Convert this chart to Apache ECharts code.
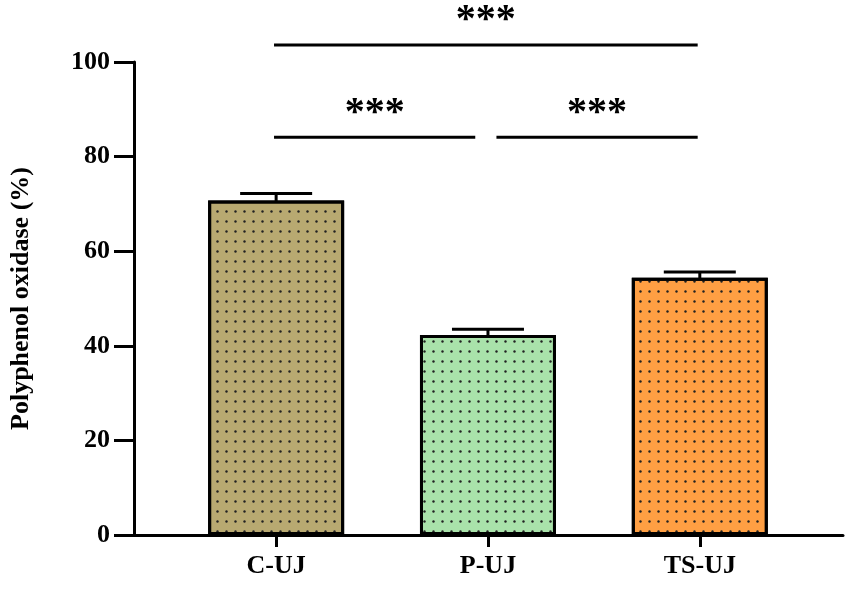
<!DOCTYPE html>
<html>
<head>
<meta charset="utf-8">
<script src="https://cdn.jsdelivr.net/npm/echarts@6/dist/echarts.min.js"></script>
<style>html,body{margin:0;padding:0;background:#fff}#chart{width:851px;height:600px}</style>
</head>
<body>
<div id="chart"></div>
<script>
// data
let categories = ['C-UJ', 'P-UJ', 'TS-UJ']
let means = [70.7, 42.3, 54.4]
let sds = [1.5, 1.2, 1.2]
let colors = ['#B8A971', '#A9E2AA', '#FF9F43']
// significance brackets: [from, to, level, label]
let brackets = [[-0.01, 1.99, 103.6, '***'], [-0.01, 0.94, 84.1, '***'], [1.04, 1.99, 84.1, '***']]

let font = '"Liberation Serif", "Times New Roman", serif'
let barData = means.map((v, i) => ({
    value: [i, v],
    itemStyle: { color: colors[i] }
}))
let errData = means.map((v, i) => [i, v - sds[i], v + sds[i]])

var chart = echarts.init(document.getElementById('chart'))
chart.setOption({
    animation: false,
    grid: { left: 130, right: 8, top: 62, bottom: 65 },
    xAxis: {
        type: 'value',
        min: -0.671, max: 2.676,
        splitLine: { show: false },
        axisLine: { show: true, onZero: false, lineStyle: { color: '#000', width: 3 } },
        axisTick: { show: true, customValues: [0, 1, 2], length: 12, lineStyle: { color: '#000', width: 3 } },
        axisLabel: {
            customValues: [0, 1, 2],
            formatter: v => categories[Math.round(v)],
            fontFamily: font, fontWeight: 'bold', fontSize: 26, color: '#000', margin: 18
        }
    },
    yAxis: {
        type: 'value',
        min: 0, max: 100, interval: 20,
        splitLine: { show: false },
        axisLine: { show: true, onZero: false, lineStyle: { color: '#000', width: 3 } },
        axisTick: { show: true, length: 20, lineStyle: { color: '#000', width: 3 } },
        axisLabel: { fontFamily: font, fontWeight: 'bold', fontSize: 26, color: '#000', margin: 24 },
        name: 'Polyphenol oxidase (%)',
        nameLocation: 'middle',
        nameGap: 100,
        nameTextStyle: { fontFamily: font, fontWeight: 'bold', fontSize: 26, color: '#000' }
    },
    series: [
        {
            type: 'bar',
            data: barData,
            barWidth: 136,
            itemStyle: {
                borderColor: '#000', borderWidth: 3,
                decal: { symbol: 'circle', symbolSize: 0.8, color: '#222', dashArrayX: [3, 6], dashArrayY: [3, 7] }
            },
            z: 3
        },
        {
            type: 'custom',
            data: errData,
            z: 2,
            renderItem: function (params, api) {
                let x = api.value(0)
                let lo = api.coord([x, api.value(1)])
                let hi = api.coord([x, api.value(2)])
                let hw = 36
                let st = { stroke: '#000', lineWidth: 3 }
                return {
                    type: 'group',
                    children: [
                        { type: 'line', shape: { x1: lo[0], y1: lo[1], x2: hi[0], y2: hi[1] }, style: st },
                        { type: 'line', shape: { x1: hi[0] - hw, y1: hi[1], x2: hi[0] + hw, y2: hi[1] }, style: st }
                    ]
                }
            }
        },
        {
            type: 'custom',
            data: brackets,
            clip: false,
            renderItem: function (params, api) {
                let a = api.coord([api.value(0), api.value(2)])
                let b = api.coord([api.value(1), api.value(2)])
                return {
                    type: 'group',
                    children: [
                        { type: 'line', shape: { x1: a[0], y1: a[1], x2: b[0], y2: b[1] }, style: { stroke: '#000', lineWidth: 3 } },
                        {
                            type: 'text',
                            style: {
                                text: brackets[params.dataIndex][3],
                                x: (a[0] + b[0]) / 2, y: a[1] - 4,
                                align: 'center', verticalAlign: 'bottom',
                                font: 'bold 40px ' + font, fill: '#000'
                            }
                        }
                    ]
                }
            }
        }
    ]
})
</script>
</body>
</html>
